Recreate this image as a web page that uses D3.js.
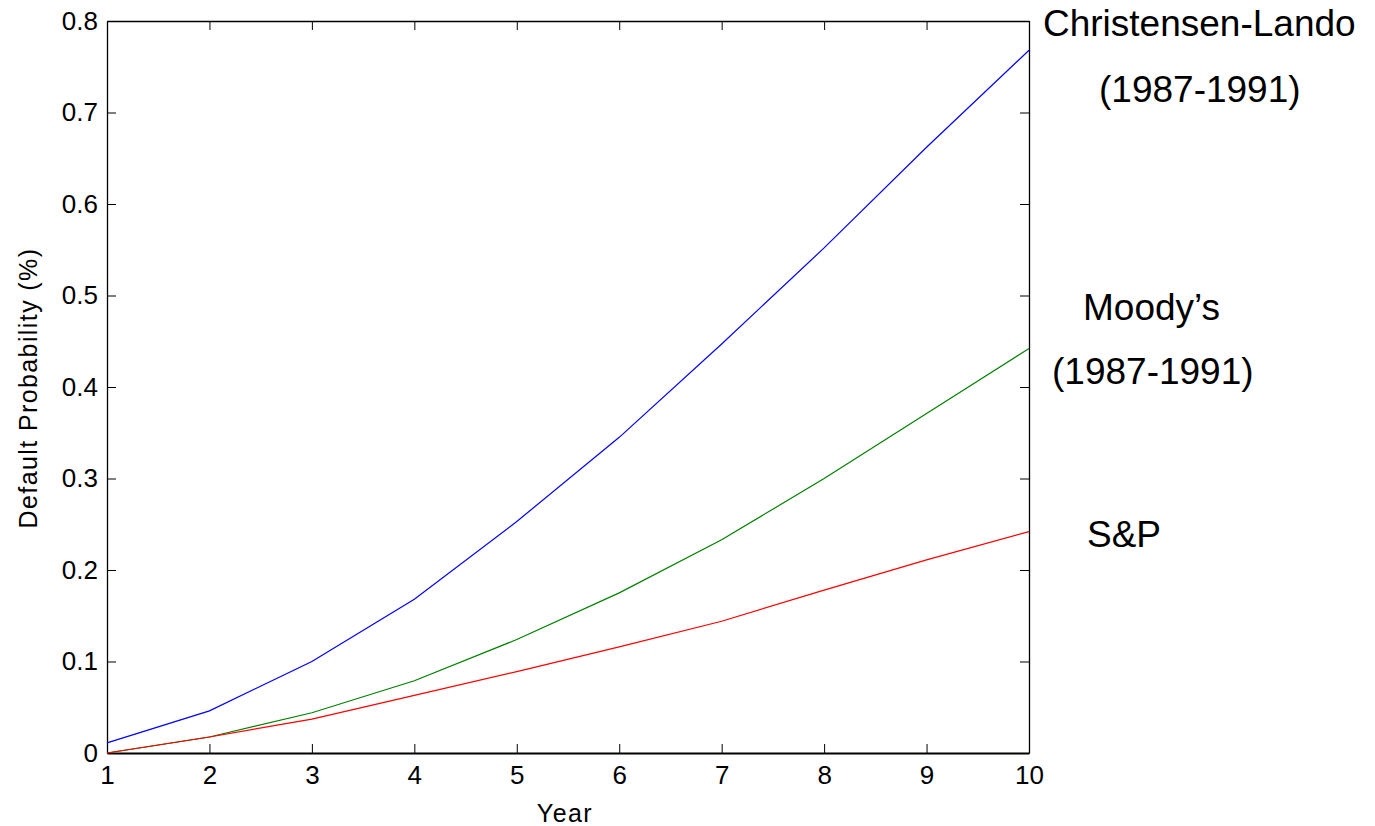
<!DOCTYPE html>
<html>
<head>
<meta charset="utf-8">
<script src="https://cdn.jsdelivr.net/npm/d3@7"></script>
<style>
  body { margin: 0; background: #fff; }
  text { font-family: "Liberation Sans", Arial, sans-serif; fill: #000; }
</style>
</head>
<body>
<div id="chart"></div>
<script>
const years = [1, 2, 3, 4, 5, 6, 7, 8, 9, 10];
const christensenLando = [0.011, 0.046, 0.100, 0.168, 0.253, 0.345, 0.447, 0.552, 0.662, 0.768];
const moodys = [0.000, 0.0175, 0.044, 0.079, 0.124, 0.175, 0.233, 0.300, 0.371, 0.442];
const sp = [0.000, 0.0175, 0.037, 0.063, 0.089, 0.116, 0.144, 0.178, 0.211, 0.242];
const yTicks = [0, 0.1, 0.2, 0.3, 0.4, 0.5, 0.6, 0.7, 0.8];

const drawChart = () => {
  const width = 1375;
  const height = 826;
  const margin = { top: 21, right: 346, bottom: 73, left: 107 };

  const svg = d3.select("#chart")
    .append("svg")
    .attr("width", width)
    .attr("height", height);

  const x = d3.scaleLinear()
    .domain([1, 10])
    .range([margin.left, width - margin.right]);

  const y = d3.scaleLinear()
    .domain([0, 0.8])
    .range([height - margin.bottom, margin.top]);

  const tickLen = 9;

  // box + ticks on all four sides, matlab style
  const bottom = svg.append("g")
    .attr("transform", `translate(0,${height - margin.bottom})`)
    .call(d3.axisBottom(x).tickValues(years).tickSizeInner(-tickLen).tickSizeOuter(0).tickPadding(13).tickFormat(d3.format("d")));
  const top = svg.append("g")
    .attr("transform", `translate(0,${margin.top})`)
    .call(d3.axisTop(x).tickValues(years).tickSizeInner(-tickLen).tickSizeOuter(0).tickFormat(""));
  const left = svg.append("g")
    .attr("transform", `translate(${margin.left},0)`)
    .call(d3.axisLeft(y).tickValues(yTicks).tickSizeInner(-tickLen).tickSizeOuter(0).tickPadding(9).tickFormat(d => d === 0 ? "0" : d3.format(".1f")(d)));
  const right = svg.append("g")
    .attr("transform", `translate(${width - margin.right},0)`)
    .call(d3.axisRight(y).tickValues(yTicks).tickSizeInner(-tickLen).tickSizeOuter(0).tickFormat(""));

  [bottom, top, left, right].forEach(g => {
    g.select(".domain").attr("stroke", "#000").attr("stroke-width", 1.3);
    g.selectAll(".tick line").attr("stroke", "#000").attr("stroke-width", 1);
    g.selectAll(".tick text")
      .style("font-family", "'Liberation Sans', Arial, sans-serif")
      .style("font-size", "26px")
      .attr("fill", "#000");
  });
  bottom.select(".domain").attr("stroke-width", 2.2);

  const line = d3.line()
    .x((d, i) => x(years[i]))
    .y(d => y(d));

  const series = [
    { values: christensenLando, color: "#0000ff" },
    { values: moodys, color: "#008000" },
    { values: sp, color: "#ff0000" }
  ];

  svg.selectAll("path.series")
    .data(series)
    .enter()
    .append("path")
    .attr("class", "series")
    .attr("d", d => line(d.values))
    .attr("fill", "none")
    .attr("stroke", d => d.color)
    .attr("stroke-width", 1.2);

  // axis titles
  svg.append("text")
    .attr("x", x(5.47))
    .attr("y", 822)
    .attr("text-anchor", "middle")
    .style("font-size", "25px")
    .style("letter-spacing", "1.4px")
    .text("Year");

  svg.append("text")
    .attr("transform", `translate(37,${y(0.4) + 1}) rotate(-90)`)
    .attr("text-anchor", "middle")
    .style("font-size", "25px")
    .style("letter-spacing", "1.4px")
    .text("Default Probability (%)");

  // right-hand labels
  const labels = [
    { text: "Christensen-Lando", x: 1043, y: 36 },
    { text: "(1987-1991)", x: 1099, y: 102 },
    { text: "Moody\u2019s", x: 1083, y: 320 },
    { text: "(1987-1991)", x: 1052, y: 384 },
    { text: "S&P", x: 1087, y: 547 }
  ];

  svg.selectAll("text.label")
    .data(labels)
    .enter()
    .append("text")
    .attr("class", "label")
    .attr("x", d => d.x)
    .attr("y", d => d.y)
    .style("font-size", "37px")
    .text(d => d.text);
};

drawChart();
</script>
</body>
</html>
